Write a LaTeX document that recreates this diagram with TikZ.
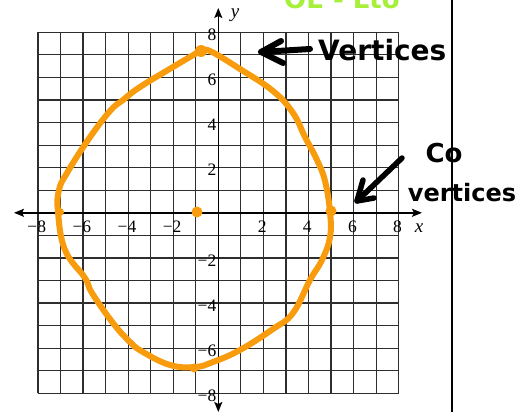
\documentclass[tikz,border=0pt]{standalone}
\usepackage{fontspec}
\setmainfont{Liberation Serif}
\newfontfamily\handfont{DejaVu Sans}
\usetikzlibrary{arrows.meta}
\definecolor{gridgray}{HTML}{2E2E2E}
\definecolor{curveorange}{HTML}{F89C0E}
\definecolor{markgreen}{HTML}{A6F03A}
\begin{document}
\begin{tikzpicture}[x=1pt,y=1pt,
  gridline/.style={gridgray, line width=1.2pt},
  axisline/.style={black, line width=1.4pt},
  tipped/.style={{Stealth[length=10pt,width=8pt,inset=2pt]}-{Stealth[length=10pt,width=8pt,inset=2pt]}},
  ticklabel/.style={font=\rmfamily\fontsize{17.5}{18}\selectfont, inner sep=0pt},
  axislabel/.style={font=\rmfamily\itshape\fontsize{19}{19}\selectfont, inner sep=0pt},
  ink/.style={black, line width=6pt, line cap=round, line join=round},
  curve/.style={curveorange, line width=6pt, line join=round},
  dotmark/.style={circle, fill=curveorange, inner sep=0pt},
  hand/.style={font=\handfont\bfseries, inner sep=0pt},
  greenhand/.style={font=\handfont\bfseries\fontsize{26}{26}\selectfont, text=markgreen, inner sep=0pt}
]
\useasboundingbox (0,0) rectangle (523,-412);
\fill[white] (0,0) rectangle (523,-412);

% green cropped note at top
\node[greenhand, anchor=base] (note) at (342,-9) {OE - Lto};

% grid and labels
\begin{scope}[shift={(218.3,-212.8)}, x=22.55pt, y=22.56pt]
  \foreach \i in {-8,...,8} {
    \draw[gridline] (\i,-8) -- (\i,8);
    \draw[gridline] (-8,\i) -- (8,\i);
  }
  \foreach \v/\t in {-8/−8,-6/−6,-4/−4,-2/−2,2/2,4/4,6/6,8/8} {
    \node[ticklabel] (xl\v) at (\v-0.05,-0.62) {\t};
    \node[ticklabel, anchor=east] (yl\v) at (-0.08,\v-0.11) {\t};
  }
\end{scope}

% axes
\coordinate (xleft) at (14,-212.8);
\coordinate (xright) at (422,-212.8);
\coordinate (ytop) at (218.3,-8);
\coordinate (ybot) at (218.3,-412);
\draw[axisline, tipped] (xleft) -- (xright);
\draw[axisline, tipped] (ybot) -- (ytop);
\node[axislabel] (ylab) at (235,-15) {y};
\node[axislabel] (xlab) at (419,-228) {x};

% orange hand-drawn ellipse
\draw[curve] plot[smooth cycle, tension=0.7] coordinates {
  (201.7,-50) (212,-52) (240,-69) (273,-91) (293,-113) (305,-137) (317,-160)
  (325,-181) (330,-212) (330,-237) (322,-260) (310,-280) (293,-313) (273,-329)
  (240,-350) (213,-362) (195,-367) (170,-365) (143,-352) (130,-342) (113,-323)
  (92,-293) (85,-278) (65,-250) (58,-212) (59,-190) (67,-173) (88,-140)
  (110,-111) (123,-100) (140,-87) (173,-67) (195,-54)};
\node[dotmark, minimum size=12pt] (vtop) at (201,-51) {};
\node[dotmark, minimum size=9pt] (vbot) at (194,-368) {};
\node[dotmark, minimum size=11pt] (ctr) at (197,-212) {};
\node[dotmark, minimum size=11pt] (cvright) at (331,-211) {};
\node[dotmark, minimum size=8pt] (cvleft) at (60,-212) {};

% right vertical rule
\coordinate (rtop) at (452,0);
\coordinate (rbot) at (452,-412);
\draw[black, line width=2.5pt] (rtop) -- (rbot);

% handwritten annotations
\node[hand, font=\handfont\bfseries\fontsize{28}{28}\selectfont, anchor=west] (vtx) at (318,-50) {Vertices};
\node[hand, font=\handfont\bfseries\fontsize{26}{26}\selectfont] (co) at (444,-153) {Co};
\node[hand, font=\handfont\bfseries\fontsize{24}{24}\selectfont] (covtx) at (462,-193) {vertices};

\coordinate (a1s) at (310,-49);
\coordinate (a1e) at (261,-52);
\coordinate (a1u) at (281,-41);
\coordinate (a1d) at (283,-63);
\draw[ink] (a1s) -- (a1e);
\draw[ink] (a1u) -- (a1e) -- (a1d);

\coordinate (a2s) at (402,-158);
\coordinate (a2e) at (357,-201);
\coordinate (a2u) at (363,-180);
\coordinate (a2r) at (374,-198);
\draw[ink, line width=5.5pt] (a2s) -- (a2e);
\draw[ink, line width=5.5pt] (a2u) -- (a2e) -- (a2r);
\end{tikzpicture}
\end{document}
